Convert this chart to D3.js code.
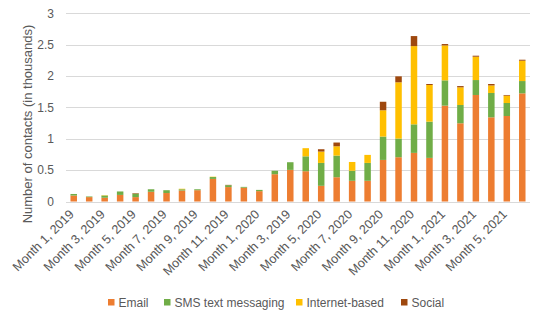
<!DOCTYPE html>
<html><head><meta charset="utf-8">
<script src="https://cdn.jsdelivr.net/npm/d3@7"></script>
<style>body{margin:0;background:#fff;} svg{display:block;}</style>
</head><body>
<svg id="c" width="545" height="320"></svg>
<script>
const months = [
 "Month 1, 2019","Month 2, 2019","Month 3, 2019","Month 4, 2019","Month 5, 2019","Month 6, 2019",
 "Month 7, 2019","Month 8, 2019","Month 9, 2019","Month 10, 2019","Month 11, 2019","Month 12, 2019",
 "Month 1, 2020","Month 2, 2020","Month 3, 2019","Month 4, 2020","Month 5, 2020","Month 6, 2020",
 "Month 7, 2020","Month 8, 2020","Month 9, 2020","Month 10, 2020","Month 11, 2020","Month 12, 2020",
 "Month 1, 2021","Month 2, 2021","Month 3, 2021","Month 4, 2021","Month 5, 2021","Month 6, 2021"];
const seriesNames = ["Email","SMS text messaging","Internet-based","Social"];
const colors = ["#ED7D31","#70AD47","#FFC000","#9E480E"];
const email    = [0.095,0.07,0.06,0.105,0.07,0.155,0.135,0.175,0.18,0.36,0.23,0.22,0.165,0.435,0.504,0.483,0.25,0.387,0.33,0.33,0.663,0.706,0.775,0.695,1.528,1.247,1.698,1.342,1.363,1.724];
const sms      = [0.025,0.01,0.035,0.055,0.055,0.04,0.045,0.02,0.015,0.03,0.03,0.013,0.02,0.055,0.122,0.237,0.365,0.345,0.16,0.285,0.372,0.297,0.455,0.578,0.403,0.291,0.238,0.388,0.207,0.196];
const internet = [0,0,0.005,0,0,0,0,0.008,0,0.005,0,0,0,0,0,0.13,0.181,0.148,0.14,0.128,0.419,0.897,1.247,0.584,0.557,0.282,0.372,0.12,0.117,0.324];
const social   = [0,0,0,0,0.008,0,0,0,0,0,0.005,0,0,0,0,0,0.037,0.06,0,0,0.136,0.095,0.16,0.016,0.022,0.02,0.016,0.023,0.011,0.016];
const yTicks = [0,0.5,1,1.5,2,2.5,3];

const data = months.map((m,i)=>({month:m, idx:i, Email:email[i], "SMS text messaging":sms[i], "Internet-based":internet[i], Social:social[i]}));
const svg = d3.select("#c");
const x = d3.scaleBand().domain(d3.range(months.length)).range([66,530]).paddingInner(0.58).paddingOuter(0.29);
const y = d3.scaleLinear().domain([0,3]).range([201.5,13.3]);
const stack = d3.stack().keys(seriesNames)(data);
const txt = "#595959";
const font = "'Liberation Sans', Arial, sans-serif";

svg.append("g").selectAll("line").data(yTicks).join("line")
  .attr("x1",66).attr("x2",530).attr("y1",d=>Math.round(y(d))+0.5).attr("y2",d=>Math.round(y(d))+0.5)
  .attr("stroke","#d9d9d9").attr("stroke-width",1);

svg.append("g").selectAll("text").data(yTicks).join("text")
  .attr("x",54).attr("y",d=>y(d)).attr("dy","0.35em").attr("text-anchor","end")
  .attr("font-family",font).attr("font-size",12).attr("fill",txt).text(d=>d);

svg.append("g").selectAll("g").data(stack).join("g").attr("fill",(d,i)=>colors[i])
  .selectAll("rect").data(d=>d).join("rect")
  .attr("x",(d,i)=>x(i)).attr("width",x.bandwidth())
  .attr("y",d=>y(d[1])).attr("height",d=>Math.max(0,y(d[0])-y(d[1])));

// x labels
const xl = svg.append("g");
months.forEach((m,i)=>{
  if(i%2!==0) return;
  const cx = x(i)+x.bandwidth()/2;
  xl.append("text").attr("transform",`translate(${cx+1},${215}) rotate(-45)`)
    .attr("text-anchor","end").attr("font-family",font).attr("font-size",12.6).attr("fill",txt).text(m);
});

svg.append("text").attr("transform","translate(32,124) rotate(-90)").attr("text-anchor","middle")
  .attr("font-family",font).attr("font-size",13).attr("fill",txt).text("Number of contacts (in thousands)");

// legend
const legX = [108,164,296,401];
const leg = svg.append("g");
seriesNames.forEach((s,i)=>{
  leg.append("rect").attr("x",legX[i]).attr("y",299).attr("width",6.5).attr("height",6.5).attr("fill",colors[i]);
  leg.append("text").attr("x",legX[i]+10.5).attr("y",307).attr("font-family",font).attr("font-size",12).attr("fill",txt).text(s);
});
</script>
</body></html>
